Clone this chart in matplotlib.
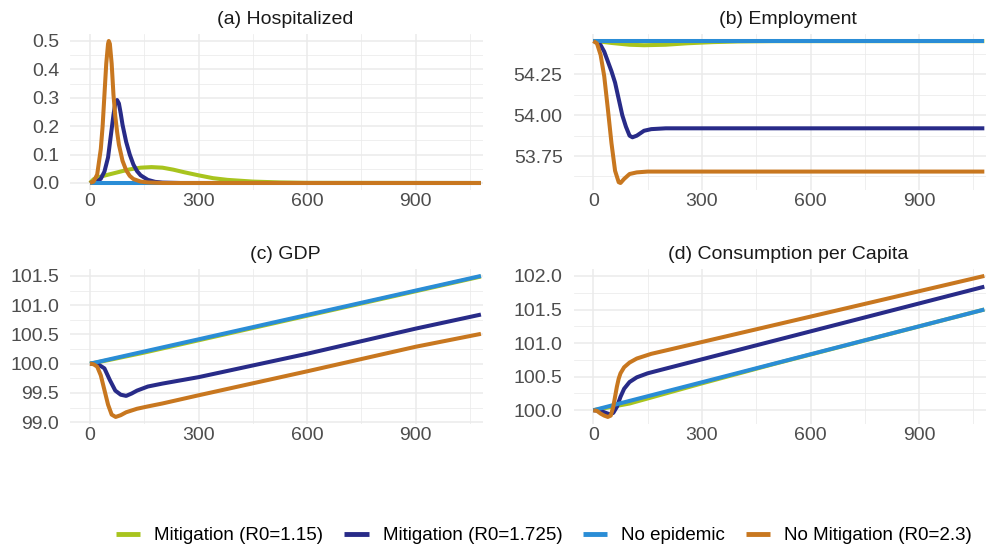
import matplotlib
matplotlib.use("Agg")
import matplotlib.pyplot as plt

# --- Series styling ---
LABELS = ["Mitigation (R0=1.15)", "Mitigation (R0=1.725)", "No epidemic", "No Mitigation (R0=2.3)"]
COLORS = ["#a8c41e", "#282b88", "#2a8dd6", "#c8771f"]

# --- (a) Hospitalized ---
hosp_green_day = [0, 10, 20, 40, 65, 90, 110, 140, 170, 200, 230, 260, 300, 340, 380, 450, 525, 600, 1080]
hosp_green = [0, 0.013, 0.019, 0.026, 0.034, 0.042, 0.048, 0.054, 0.056, 0.054, 0.047, 0.038, 0.027,
              0.017, 0.011, 0.005, 0.002, 0.0005, 0]
hosp_navy_day = [0, 20, 30, 40, 50, 55, 60, 65, 70, 75, 80, 85, 90, 100, 110, 120, 130, 140, 160, 180, 200, 250, 1080]
hosp_navy = [0, 0.005, 0.015, 0.04, 0.09, 0.14, 0.19, 0.24, 0.28, 0.292, 0.28, 0.245, 0.205, 0.145, 0.1,
             0.065, 0.042, 0.027, 0.011, 0.004, 0.0015, 0, 0]
hosp_blue_day = [0, 1080]
hosp_blue = [0, 0]
hosp_orange_day = [0, 10, 20, 30, 35, 40, 45, 50, 52, 55, 60, 65, 70, 75, 80, 90, 100, 110, 120, 140, 160, 200, 1080]
hosp_orange = [0, 0.005, 0.03, 0.12, 0.2, 0.31, 0.42, 0.49, 0.5, 0.49, 0.42, 0.31, 0.235, 0.18, 0.135,
               0.078, 0.045, 0.025, 0.014, 0.005, 0.002, 0, 0]

# --- (b) Employment ---
emp_green_day = [0, 20, 50, 100, 140, 200, 260, 330, 400, 500, 1080]
emp_green = [54.455, 54.451, 54.443, 54.432, 54.429, 54.432, 54.441, 54.448, 54.452, 54.454, 54.454]
emp_navy_day = [0, 10, 20, 30, 40, 50, 60, 70, 80, 90, 100, 108, 120, 140, 160, 200, 1080]
emp_navy = [54.455, 54.45, 54.43, 54.39, 54.33, 54.27, 54.2, 54.1, 54.0, 53.93, 53.875, 53.865, 53.875,
            53.905, 53.915, 53.92, 53.92]
emp_blue_day = [0, 1080]
emp_blue = [54.455, 54.455]
emp_orange_day = [0, 10, 20, 30, 40, 50, 60, 70, 75, 85, 100, 120, 150, 1080]
emp_orange = [54.455, 54.44, 54.37, 54.24, 54.04, 53.83, 53.66, 53.59, 53.585, 53.61, 53.64, 53.65,
              53.655, 53.655]

# --- (c) GDP ---
gdp_green_day = [0, 50, 100, 150, 200, 300, 400, 600, 1080]
gdp_green = [100, 100.06, 100.125, 100.19, 100.26, 100.4, 100.54, 100.82, 101.49]
gdp_navy_day = [0, 20, 40, 55, 70, 85, 100, 115, 130, 160, 200, 300, 600, 900, 1080]
gdp_navy = [100, 100.0, 99.92, 99.72, 99.54, 99.47, 99.45, 99.49, 99.54, 99.61, 99.66, 99.77, 100.17,
            100.6, 100.84]
gdp_blue_day = [0, 1080]
gdp_blue = [100, 101.5]
gdp_orange_day = [0, 10, 20, 30, 40, 50, 60, 71, 85, 100, 130, 160, 200, 300, 600, 900, 1080]
gdp_orange = [100, 99.99, 99.95, 99.8, 99.55, 99.3, 99.13, 99.09, 99.12, 99.17, 99.23, 99.27, 99.32,
              99.46, 99.87, 100.29, 100.51]

# --- (d) Consumption per Capita ---
cons_green_day = [0, 100, 200, 300, 500, 1080]
cons_green = [100, 100.1, 100.25, 100.4, 100.69, 101.5]
cons_navy_day = [0, 20, 35, 45, 55, 65, 75, 85, 100, 120, 150, 200, 1080]
cons_navy = [100, 99.99, 99.96, 99.94, 99.96, 100.05, 100.2, 100.32, 100.42, 100.49, 100.55, 100.62, 101.84]
cons_blue_day = [0, 1080]
cons_blue = [100, 101.5]
cons_orange_day = [0, 10, 20, 30, 40, 48, 55, 60, 65, 70, 75, 85, 100, 120, 160, 200, 1080]
cons_orange = [100, 99.99, 99.95, 99.92, 99.9, 99.92, 100.05, 100.2, 100.35, 100.47, 100.55, 100.64,
               100.71, 100.77, 100.84, 100.89, 102.0]

X_TICKS = [0, 300, 600, 900]

panels = [
    ("(a) Hospitalized",
     [(hosp_green_day, hosp_green), (hosp_navy_day, hosp_navy), (hosp_blue_day, hosp_blue), (hosp_orange_day, hosp_orange)],
     [0, 0.1, 0.2, 0.3, 0.4, 0.5], "{:.1f}"),
    ("(b) Employment",
     [(emp_green_day, emp_green), (emp_navy_day, emp_navy), (emp_blue_day, emp_blue), (emp_orange_day, emp_orange)],
     [53.75, 54.0, 54.25], "{:.2f}"),
    ("(c) GDP",
     [(gdp_green_day, gdp_green), (gdp_navy_day, gdp_navy), (gdp_blue_day, gdp_blue), (gdp_orange_day, gdp_orange)],
     [99.0, 99.5, 100.0, 100.5, 101.0, 101.5], "{:.1f}"),
    ("(d) Consumption per Capita",
     [(cons_green_day, cons_green), (cons_navy_day, cons_navy), (cons_blue_day, cons_blue), (cons_orange_day, cons_orange)],
     [100.0, 100.5, 101.0, 101.5, 102.0], "{:.1f}"),
]

plt.rcParams['font.family'] = ['Liberation Sans', 'DejaVu Sans']

fig = plt.figure(figsize=(10, 5.51), dpi=100)
positions = [
    [0.0704, 0.655, 0.4127, 0.2835],
    [0.5738, 0.655, 0.4127, 0.2835],
    [0.0704, 0.2305, 0.4127, 0.2815],
    [0.5738, 0.2305, 0.4127, 0.2815],
]

handles = []
for pos, (title, series, yticks, fmt) in zip(positions, panels):
    ax = fig.add_axes(pos)
    handles = []
    for (days, vals), color, label in zip(series, COLORS, LABELS):
        h, = ax.plot(days, vals, color=color, lw=2.9, label=label, solid_capstyle='butt')
        handles.append(h)
    ax.margins(y=0.05)
    ylo, yhi = ax.get_ylim()
    ax.set_xlim(-54, 1086)
    ax.set_xticks(X_TICKS)
    ax.set_xticks([150, 450, 750, 1050], minor=True)
    ax.set_yticks(yticks)
    ax.set_yticklabels([fmt.format(v) for v in yticks])
    step = yticks[1] - yticks[0]
    ax.set_yticks([yticks[0] - step / 2] + [v + step / 2 for v in yticks], minor=True)
    ax.set_ylim(ylo, yhi)
    ax.grid(which='major', color='#ebebeb', lw=1.1)
    ax.grid(which='minor', color='#ebebeb', lw=0.55)
    ax.set_axisbelow(True)
    for s in ax.spines.values():
        s.set_visible(False)
    ax.tick_params(which='both', length=0, labelsize=14, labelcolor='#4d4d4d')
    ax.tick_params(axis='x', pad=2)
    ax.tick_params(axis='y', pad=8)
    ax.set_title(title, fontsize=14, color='#1a1a1a', x=0.52, pad=7)

leg = fig.legend(handles, LABELS, loc='center', bbox_to_anchor=(0.544, 0.028), ncol=4, frameon=False,
                 fontsize=13.5, handlelength=1.3, handletextpad=0.75, columnspacing=1.1)
for line in leg.get_lines():
    line.set_linewidth(3.5)

fig.savefig("out.png", dpi=100)
